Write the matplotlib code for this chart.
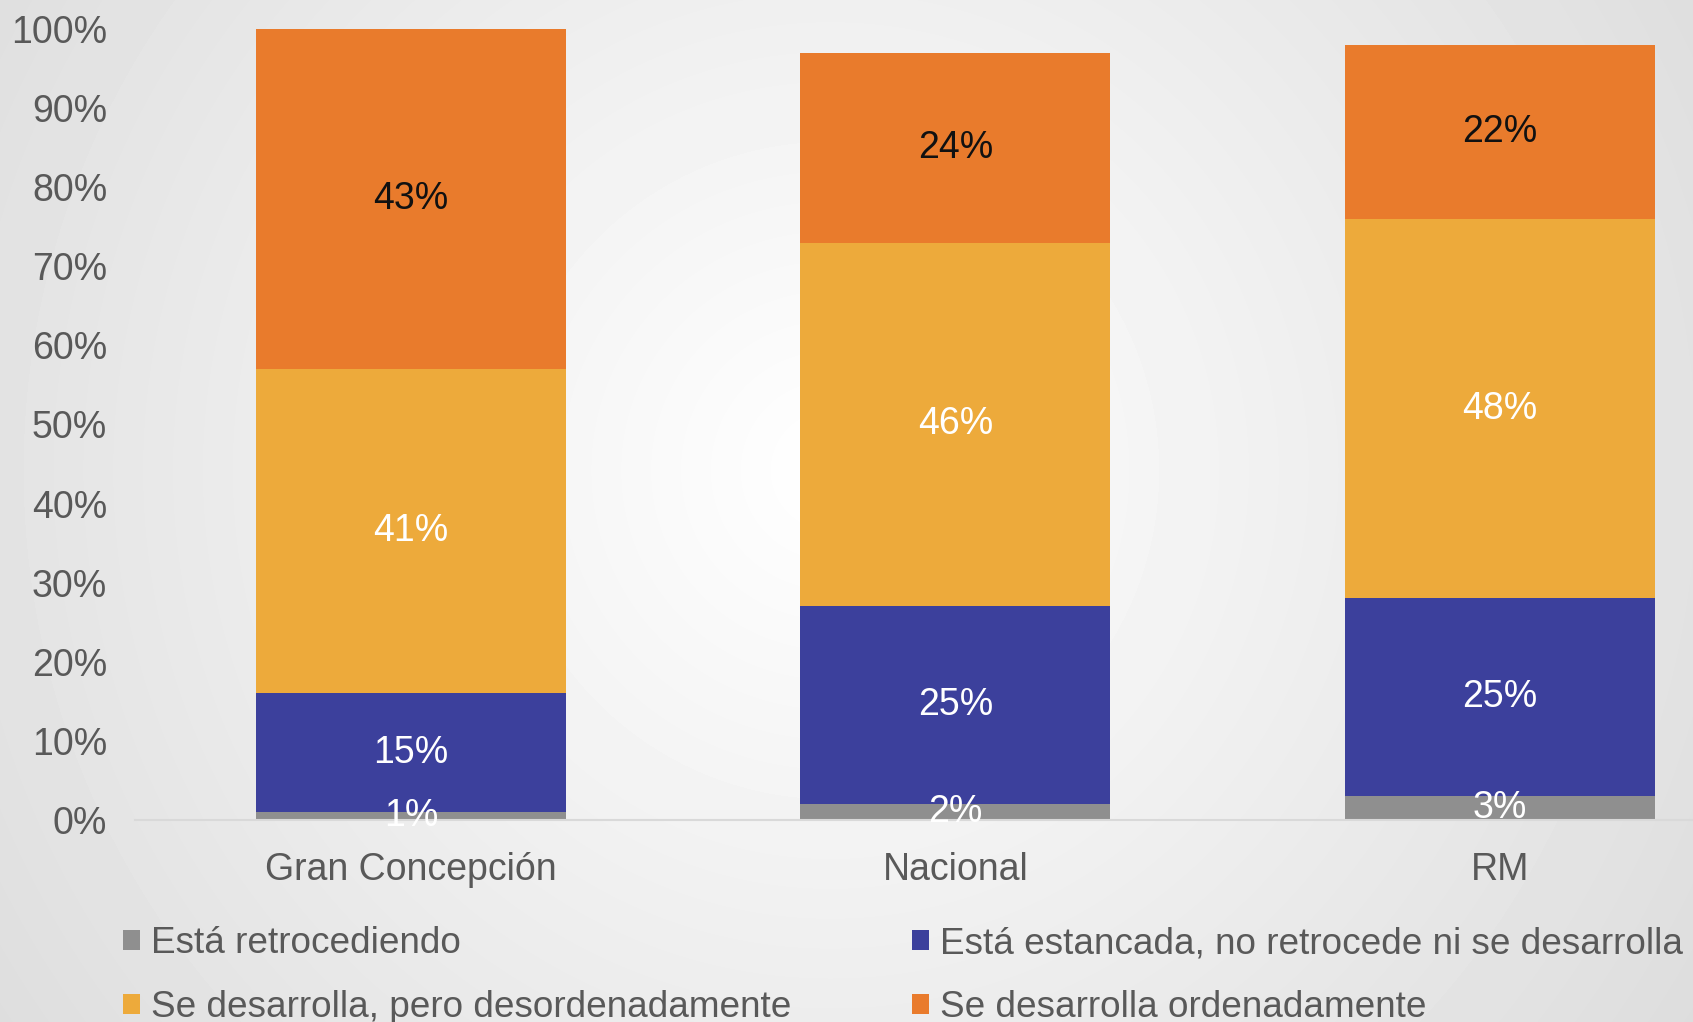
import numpy as np
import matplotlib
matplotlib.use("Agg")
import matplotlib.pyplot as plt
from matplotlib.patches import Patch

plt.rcParams['font.family'] = ['Liberation Sans', 'DejaVu Sans']

# survey shares (%) per zone
zones = ['Gran Concepción', 'Nacional', 'RM']
retrocede = [1, 2, 3]
estancada = [15, 25, 25]
desordenada = [41, 46, 48]
ordenada = [43, 24, 22]

series_names = ['Está retrocediendo',
                'Está estancada, no retrocede ni se desarrolla',
                'Se desarrolla, pero desordenadamente',
                'Se desarrolla ordenadamente']
yticks = [0, 10, 20, 30, 40, 50, 60, 70, 80, 90, 100]

colors = ['#8f8f8f', '#3c409c', '#edaa3b', '#e97b2c']
label_colors = ['white', 'white', 'white', '#111111']
text_gray = '#595959'

fig = plt.figure(figsize=(16.93, 10.22), dpi=100)

# soft radial background
bg = fig.add_axes([0, 0, 1, 1], zorder=-1)
yy, xx = np.mgrid[0:1022, 0:1693]
d = np.sqrt((xx - 830) ** 2 + (yy - 470) ** 2)
shade = np.clip(255 - 32 * d / 960, 218, 255) / 255
bg.imshow(shade, cmap='gray', vmin=0, vmax=1, aspect='auto', interpolation='bilinear')
bg.axis('off')

ax = fig.add_axes([0.0797, 0.1977, 0.9203, 0.7739])
ax.set_facecolor('none')

x = np.arange(len(zones))
width = 0.57
stack = [retrocede, estancada, desordenada, ordenada]
bottom = np.zeros(len(zones))
for vals, col, lcol, name in zip(stack, colors, label_colors, series_names):
    vals = np.array(vals, dtype=float)
    ax.bar(x, vals, width, bottom=bottom, color=col, label=name, zorder=2)
    for xi, b, v in zip(x, bottom, vals):
        ax.text(xi, b + v / 2, f'{v:.0f}%', ha='center', va='center',
                fontsize=27, color=lcol, zorder=3)
    bottom += vals

ax.set_xlim(-0.507, 2.355)
ax.set_ylim(0, 100)
ax.set_yticks(yticks)
ax.set_yticklabels([f'{t}%' for t in yticks])
ax.set_xticks(x)
ax.set_xticklabels(zones)
ax.tick_params(axis='y', length=0, pad=20, labelsize=27, labelcolor=text_gray)
ax.tick_params(axis='x', length=0, pad=23, labelsize=27, labelcolor=text_gray)
for s in ['top', 'right', 'left']:
    ax.spines[s].set_visible(False)
ax.spines['bottom'].set_color('#d9d9d9')
ax.spines['bottom'].set_linewidth(1.5)

# legend, filled column by column
order = [0, 2, 1, 3]
handles = [Patch(facecolor=colors[i], label=series_names[i]) for i in order]
fig.legend(handles=handles, loc='upper left', bbox_to_anchor=(0.0728, 0.0936), ncol=2,
           frameon=False, fontsize=26.6, labelcolor=text_gray,
           handlelength=0.46, handleheight=0.46, handletextpad=0.3,
           labelspacing=0.77, columnspacing=3.26, borderaxespad=0, borderpad=0)

fig.savefig('out.png', dpi=100)
